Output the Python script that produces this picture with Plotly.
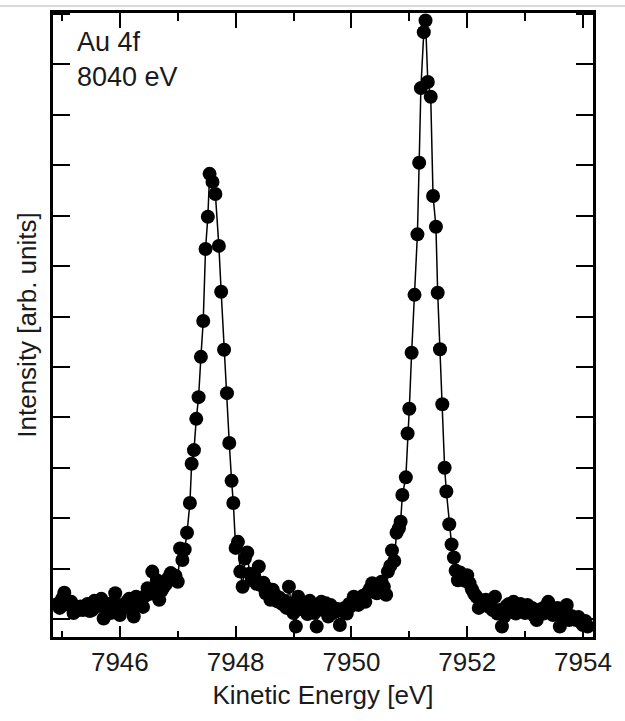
import plotly.graph_objects as go

# Kinetic energy (eV) and intensity (arb. units, one unit per y tick)
energy_ev = [
    7944.92, 7944.96, 7945.00, 7945.04, 7945.08, 7945.12, 7945.16, 7945.20, 7945.24, 7945.28,
    7945.32, 7945.36, 7945.40, 7945.44, 7945.48, 7945.52, 7945.56, 7945.60, 7945.64, 7945.68,
    7945.72, 7945.76, 7945.80, 7945.84, 7945.88, 7945.92, 7945.96, 7946.00, 7946.04, 7946.08,
    7946.12, 7946.16, 7946.20, 7946.24, 7946.28, 7946.32, 7946.36, 7946.40, 7946.44, 7946.48,
    7946.52, 7946.56, 7946.60, 7946.64, 7946.68, 7946.72, 7946.76, 7946.80, 7946.84, 7946.88,
    7946.92, 7946.96, 7947.00, 7947.04, 7947.08, 7947.12, 7947.16,
    7947.21, 7947.24, 7947.28, 7947.32, 7947.36, 7947.40, 7947.44, 7947.48, 7947.52, 7947.55,
    7947.60, 7947.65, 7947.71, 7947.75, 7947.80, 7947.85, 7947.89, 7947.93, 7947.96, 7948.00,
    7948.04, 7948.08, 7948.12, 7948.16, 7948.20,
    7948.24, 7948.28, 7948.32, 7948.36, 7948.40, 7948.44, 7948.48, 7948.52, 7948.56, 7948.60,
    7948.64, 7948.68, 7948.72, 7948.76, 7948.80, 7948.84, 7948.88, 7948.92, 7948.96, 7949.00,
    7949.04, 7949.08, 7949.12, 7949.16, 7949.20, 7949.24, 7949.28, 7949.32, 7949.36, 7949.40,
    7949.44, 7949.48, 7949.52, 7949.56, 7949.60, 7949.64, 7949.68, 7949.72, 7949.76, 7949.80,
    7949.84, 7949.88, 7949.92, 7949.96, 7950.00, 7950.04, 7950.08, 7950.12, 7950.16, 7950.20,
    7950.24, 7950.28, 7950.32, 7950.36, 7950.40, 7950.44, 7950.48, 7950.52, 7950.56, 7950.60,
    7950.63, 7950.67, 7950.70, 7950.74, 7950.78, 7950.82, 7950.85, 7950.88, 7950.94, 7950.97,
    7951.00, 7951.04, 7951.09, 7951.14, 7951.17, 7951.20, 7951.25, 7951.28, 7951.32, 7951.37,
    7951.41, 7951.46, 7951.49, 7951.53, 7951.57, 7951.61, 7951.64, 7951.69, 7951.73, 7951.77,
    7951.80, 7951.84, 7951.88, 7951.92, 7951.96, 7952.00, 7952.04, 7952.08, 7952.12, 7952.16,
    7952.20, 7952.24, 7952.28, 7952.32, 7952.36, 7952.40, 7952.44, 7952.48, 7952.52, 7952.56,
    7952.60, 7952.64, 7952.68, 7952.72, 7952.76, 7952.80, 7952.84, 7952.88, 7952.92, 7952.96,
    7953.00, 7953.04, 7953.08, 7953.12, 7953.16, 7953.20, 7953.24, 7953.28, 7953.32, 7953.36,
    7953.40, 7953.44, 7953.48, 7953.52, 7953.56, 7953.60, 7953.64, 7953.68, 7953.72, 7953.76,
    7953.80, 7953.84, 7953.88, 7953.92, 7953.96, 7954.00, 7954.04, 7954.08,
]

intensity = [
    0.30, 0.22, 0.40, 0.52, 0.36, 0.28, 0.34, 0.12, 0.22, 0.18,
    0.25, 0.18, 0.24, 0.30, 0.16, 0.18, 0.36, 0.34, 0.26, 0.40,
    0.01, 0.24, 0.30, 0.12, 0.31, 0.51, 0.20, 0.08, 0.28, 0.22,
    0.34, 0.40, 0.26, 0.05, 0.44, 0.30, 0.36, 0.24, 0.46, 0.61,
    0.50, 0.94, 0.62, 0.77, 0.38, 0.56, 0.64, 0.70, 0.82, 0.91,
    0.80, 0.86, 0.74, 1.40, 1.17, 1.38, 1.71,
    2.30, 3.08, 3.35, 3.97, 4.40, 5.20, 5.91, 7.34, 7.98, 8.83,
    8.67, 8.43, 7.40, 6.49, 5.34, 4.48, 3.49, 2.74, 2.30, 1.41,
    1.53, 0.94, 0.64, 1.20, 1.32,
    0.90, 0.77, 0.85, 0.70, 1.04, 0.67, 0.72, 0.51, 0.60, 0.38,
    0.58, 0.48, 0.35, 0.42, 0.30, 0.36, 0.22, 0.64, 0.30, 0.12,
    -0.15, 0.44, 0.20, 0.33, 0.31, 0.10, 0.36, 0.22, 0.12, -0.15,
    0.26, 0.34, 0.18, 0.31, 0.05, 0.28, 0.12, 0.18, 0.20, -0.12,
    0.16, 0.22, 0.11, 0.30, 0.26, 0.44, 0.36, 0.28, 0.40, 0.46,
    0.34, 0.52, 0.60, 0.71, 0.56, 0.51, 0.66, 0.74, 0.64, 0.48,
    0.94, 1.05, 1.36, 1.15, 1.71, 1.80, 1.93, 2.46, 2.81, 3.68,
    4.17, 5.28, 6.43, 7.63, 9.05, 10.53, 11.64, 11.87, 10.65, 10.36,
    8.39, 7.78, 6.47, 5.35, 4.26, 3.00, 2.53, 1.88, 1.48, 1.22,
    0.96, 0.77, 0.92, 0.84, 0.76, 0.87, 0.71, 0.59, 0.50, 0.44,
    0.22, 0.34, 0.28, 0.38, 0.25, 0.30, 0.18, 0.44, 0.11, 0.18,
    -0.15, 0.05, 0.26, 0.30, 0.20, 0.34, 0.11, 0.24, 0.30, 0.18,
    0.12, 0.28, 0.18, 0.22, 0.06, -0.02, 0.14, 0.20, 0.11, 0.26,
    0.34, 0.16, 0.08, 0.11, 0.22, -0.15, 0.04, 0.12, 0.28, -0.02,
    0.06, 0.02, -0.02, 0.04, -0.06, -0.12, -0.04, -0.15,
]

x_range = [7944.845, 7954.173]
y_range = [-0.357, 12.02]
x_tick_values = [7946, 7948, 7950, 7952, 7954]
x_tick_labels = ["7946", "7948", "7950", "7952", "7954"]
y_tick_values = list(range(0, 13))

FONT = "Liberation Sans, Arial, Helvetica, sans-serif"
INK = "#1a1a1a"

fig = go.Figure()
fig.add_trace(go.Scatter(
    x=energy_ev, y=intensity, mode="lines+markers",
    line=dict(color="black", width=1.5),
    marker=dict(color="black", size=14, line=dict(width=0)),
    showlegend=False, hoverinfo="skip",
))
# carrier trace so the top (mirror) axis is drawn
fig.add_trace(go.Scatter(
    x=energy_ev, y=intensity, mode="none", xaxis="x2",
    showlegend=False, hoverinfo="skip",
))

fig.update_layout(
    width=625, height=721,
    margin=dict(l=53, r=32, t=13, b=84),
    paper_bgcolor="white", plot_bgcolor="white",
    font=dict(family=FONT, color=INK),
    xaxis=dict(
        range=x_range, tickmode="array", tickvals=x_tick_values, ticktext=x_tick_labels,
        ticks="inside", ticklen=11, tickwidth=2, tickcolor="black",
        minor=dict(dtick=1, tick0=7945, ticks="inside", ticklen=6, tickwidth=2, tickcolor="black"),
        showline=True, linewidth=3, linecolor="black", mirror=False,
        showgrid=False, zeroline=False,
        tickfont=dict(size=26, family=FONT, color=INK),
        title=dict(text="Kinetic Energy [eV]", font=dict(size=26, family=FONT, color=INK), standoff=10),
    ),
    xaxis2=dict(
        range=x_range, overlaying="x", side="top", tickmode="array", tickvals=x_tick_values,
        showticklabels=False, ticks="inside", ticklen=15, tickwidth=2, tickcolor="black",
        minor=dict(dtick=1, tick0=7945, ticks="inside", ticklen=8, tickwidth=2, tickcolor="black"),
        showline=True, linewidth=3, linecolor="black",
        showgrid=False, zeroline=False,
    ),
    yaxis=dict(
        range=y_range, tickmode="array", tickvals=y_tick_values, showticklabels=False,
        ticks="inside", ticklen=17, tickwidth=2, tickcolor="black",
        showline=True, linewidth=3, linecolor="black", mirror="ticks",
        showgrid=False, zeroline=False,
        title=dict(text="Intensity [arb. units]", font=dict(size=26, family=FONT, color=INK), standoff=6),
    ),
    annotations=[dict(
        text="Au 4f<br>8040 eV", xref="paper", yref="paper", x=0.04, y=0.981,
        xanchor="left", yanchor="top", align="left", showarrow=False,
        font=dict(size=27, family=FONT, color=INK),
    )],
    shapes=[dict(
        type="line", xref="paper", yref="paper", x0=-0.1, x1=1.06, y0=1.0112, y1=1.0112,
        line=dict(color="#d9d9d9", width=2),
    )],
)

fig.write_html("out.html")
